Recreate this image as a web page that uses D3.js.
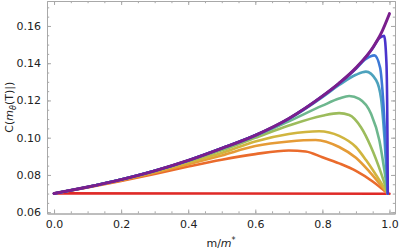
<!DOCTYPE html>
<html>
<head>
<meta charset="utf-8">
<script src="https://cdn.jsdelivr.net/npm/d3@7"></script>
<style>
  body { margin: 0; background: #fff; }
  text { font-family: "DejaVu Sans", sans-serif; }
</style>
</head>
<body>
<div id="content"></div>
<script>
// curves, bottom (red) to top (purple envelope); each point is [m/m*, C]
const red       = [[0, 0.0701], [0.5, 0.0700], [1.0, 0.0699]];
const orange    = [[0, 0.070], [0.1, 0.0733], [0.2, 0.0768], [0.3, 0.0805], [0.4, 0.0845], [0.5, 0.0882], [0.6, 0.0912], [0.7, 0.0931], [0.75, 0.0926], [0.8, 0.0895], [0.85, 0.0862], [0.9, 0.0822], [0.95, 0.0765], [0.995, 0.070]];
const ltOrange  = [[0, 0.070], [0.1, 0.0734], [0.2, 0.0771], [0.3, 0.0812], [0.4, 0.0857], [0.5, 0.0905], [0.6, 0.0955], [0.7, 0.0980], [0.78, 0.0988], [0.85, 0.0950], [0.9, 0.0892], [0.94, 0.0818], [0.97, 0.0755], [0.995, 0.070]];
const yellow    = [[0, 0.070], [0.1, 0.0735], [0.2, 0.0773], [0.3, 0.0818], [0.4, 0.0867], [0.5, 0.0918], [0.6, 0.0980], [0.7, 0.1020], [0.79, 0.1035], [0.85, 0.1010], [0.9, 0.0950], [0.93, 0.0880], [0.96, 0.0800], [0.995, 0.070]];
const yelGreen  = [[0, 0.070], [0.1, 0.0735], [0.2, 0.0775], [0.3, 0.0820], [0.4, 0.0874], [0.5, 0.0932], [0.6, 0.0999], [0.7, 0.1065], [0.8, 0.1118], [0.85, 0.1132], [0.88, 0.1122], [0.915, 0.1056], [0.945, 0.0950], [0.975, 0.0810], [0.995, 0.070]];
const green     = [[0, 0.070], [0.1, 0.0735], [0.2, 0.0775], [0.3, 0.0822], [0.4, 0.0877], [0.5, 0.0940], [0.6, 0.1008], [0.7, 0.1088], [0.8, 0.1172], [0.85, 0.1210], [0.88, 0.1224], [0.91, 0.1208], [0.945, 0.1128], [0.97, 0.0985], [0.985, 0.0823], [0.995, 0.070]];
const teal      = [[0, 0.070], [0.1, 0.0735], [0.2, 0.0775], [0.3, 0.0822], [0.4, 0.0878], [0.5, 0.0943], [0.6, 0.1013], [0.7, 0.1100], [0.8, 0.1218], [0.85, 0.1283], [0.9, 0.1338], [0.93, 0.1355], [0.96, 0.1310], [0.975, 0.1210], [0.985, 0.1000], [0.995, 0.070]];
const ltBlue    = [[0, 0.070], [0.1, 0.0735], [0.2, 0.0775], [0.3, 0.0822], [0.4, 0.0878], [0.5, 0.0943], [0.6, 0.1013], [0.7, 0.1103], [0.8, 0.1222], [0.85, 0.1291], [0.9, 0.1370], [0.93, 0.1423], [0.955, 0.1442], [0.972, 0.1377], [0.982, 0.1180], [0.989, 0.0950], [0.995, 0.070]];
const blue      = [[0, 0.070], [0.1, 0.0735], [0.2, 0.0775], [0.3, 0.0822], [0.4, 0.0878], [0.5, 0.0943], [0.6, 0.1013], [0.7, 0.1103], [0.8, 0.1223], [0.85, 0.1293], [0.9, 0.1374], [0.95, 0.1480], [0.97, 0.1535], [0.984, 0.1547], [0.991, 0.1400], [0.994, 0.1000], [0.995, 0.070]];
const envelope  = [[0, 0.070], [0.1, 0.0735], [0.2, 0.0775], [0.3, 0.0822], [0.4, 0.0878], [0.5, 0.0943], [0.6, 0.1013], [0.7, 0.1103], [0.8, 0.1223], [0.85, 0.1293], [0.9, 0.1375], [0.95, 0.1483], [0.975, 0.1560], [1.0, 0.1666]];

const series = [red, orange, ltOrange, yellow, yelGreen, green, teal, ltBlue, blue, envelope];
const colors = ["#df2a27", "#ea6b2c", "#e59b36", "#d0b53f", "#9cbc5c", "#6db78e", "#4da2bd", "#3d79d6", "#4a34cc", "#7a1f8d"];

const xTicks = [0, 0.2, 0.4, 0.6, 0.8, 1.0];
const yTicks = [0.06, 0.08, 0.10, 0.12, 0.14, 0.16];

const width = 399, height = 252;
const margin = {top: 1, right: 4, bottom: 38.5, left: 47};

const svg = d3.select("#content")
  .append("svg")
  .attr("width", width)
  .attr("height", height);

const x = d3.scaleLinear()
  .domain([-0.021, 1.0165])
  .range([margin.left, width - margin.right]);

const y = d3.scaleLinear()
  .domain([0.0593, 0.1734])
  .range([height - margin.bottom, margin.top]);

const frameColor = "#a8a8a8";
const minorX = d3.range(0, 1.0001, 0.05);
const minorY = d3.range(0.06, 0.1701, 0.005);

// frame axes, ticks pointing inward on all four sides
function frameAxis(axis, pos, vals, size, labels) {
  const g = svg.append("g")
    .attr("transform", pos)
    .call(axis.tickValues(vals).tickSize(size).tickSizeOuter(0)
      .tickFormat(labels ? d3.format(".2f") : ""));
  g.select(".domain").attr("stroke", frameColor);
  g.selectAll(".tick line").attr("stroke", frameColor);
  g.selectAll(".tick text").attr("fill", "#222").style("font-size", "11px");
  return g;
}

const bottomY = height - margin.bottom, rightX = width - margin.right;
frameAxis(d3.axisBottom(x), `translate(0,${bottomY})`, minorX, -2.2, false);
frameAxis(d3.axisTop(x), `translate(0,${margin.top})`, minorX, -2.2, false);
frameAxis(d3.axisLeft(y), `translate(${margin.left},0)`, minorY, -2.2, false);
frameAxis(d3.axisRight(y), `translate(${rightX},0)`, minorY, -2.2, false);

frameAxis(d3.axisBottom(x).tickPadding(7), `translate(0,${bottomY})`, xTicks, -4, true)
  .selectAll(".tick text").text(d => d3.format(".1f")(d));
frameAxis(d3.axisTop(x), `translate(0,${margin.top})`, xTicks, -4, false);
frameAxis(d3.axisLeft(y).tickPadding(6), `translate(${margin.left},0)`, yTicks, -4, true);
frameAxis(d3.axisRight(y), `translate(${rightX},0)`, yTicks, -4, false);

// curves
const line = d3.line()
  .x(d => x(d[0]))
  .y(d => y(d[1]))
  .curve(d3.curveMonotoneX);

svg.append("g")
  .selectAll("path")
  .data(series)
  .join("path")
    .attr("d", line)
    .attr("fill", "none")
    .attr("stroke", (d, i) => colors[i])
    .attr("stroke-width", (d, i) => i === series.length - 1 ? 3 : 2.6)
    .attr("stroke-linejoin", "round")
    .attr("stroke-linecap", "round");

// axis labels
const xl = svg.append("text")
  .attr("x", (margin.left + rightX) / 2)
  .attr("y", 247)
  .attr("text-anchor", "middle")
  .attr("fill", "#222")
  .style("font-size", "11px");
xl.append("tspan").text("m/");
xl.append("tspan").attr("font-style", "italic").text("m");
xl.append("tspan").attr("dy", -4).style("font-size", "8px").text("*");

const yl = svg.append("text")
  .attr("transform", `translate(13,${(margin.top + bottomY) / 2}) rotate(-90)`)
  .attr("text-anchor", "middle")
  .attr("fill", "#222")
  .style("font-size", "11px");
yl.append("tspan").text("C(");
yl.append("tspan").attr("font-style", "italic").text("m");
yl.append("tspan").attr("dy", 3).style("font-size", "8px").attr("font-style", "italic").text("θ");
yl.append("tspan").attr("dy", -3).text("(T)|)");
</script>
</body>
</html>
